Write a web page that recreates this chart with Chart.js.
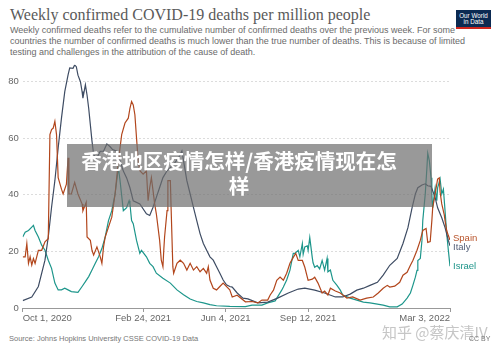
<!DOCTYPE html>
<html>
<head>
<meta charset="utf-8">
<script src="https://cdn.jsdelivr.net/npm/chart.js@4/dist/chart.umd.min.js"></script>
<style>
  html, body { margin:0; padding:0; background:#fff; }
  #wrap { position:relative; width:500px; height:352px; overflow:hidden; background:#fff; }
  .abs { position:absolute; white-space:nowrap; }
  #title { left:10px; top:7px; font:16px/16px "Liberation Serif", serif; color:#5a5a5a; }
  #sub { left:10px; top:24.7px; font:9px/11px "Liberation Sans", Arial, sans-serif; color:#6a6a6a; }
  #logo { left:456px; top:10px; width:35px; height:19px; background:#0b2a52; color:#fff;
          font:6.3px/6.6px "Liberation Sans", Arial, sans-serif; text-align:center; }
  #logo .bar { position:absolute; left:0; bottom:0; width:100%; height:2px; background:#ce261e; }
  #logo .t { padding-top:2.5px; }
  #chartBox { left:0; top:55px; width:500px; height:271px; }
  #source { left:9px; top:334px; font:7.5px/9px "Liberation Sans", Arial, sans-serif; color:#777; }
  #cc { left:469px; top:334px; font:7px/9px "Liberation Sans", Arial, sans-serif; color:#777; }
  #wm { left:382px; top:323px; font:15px/18px "Noto Sans CJK SC", sans-serif; color:#c6c6c6; }
  #overlay { left:67px; top:144px; width:365px; height:63px; background:rgba(110,110,110,0.7); }
  .ov { position:absolute; left:77px; width:324px; text-align:center; color:#fff;
        font:bold 20.5px/26px "Noto Sans CJK SC", sans-serif; white-space:nowrap; }
</style>
</head>
<body>
<div id="wrap">
  <div id="title" class="abs">Weekly confirmed COVID-19 deaths per million people</div>
  <div id="sub" class="abs">Weekly confirmed deaths refer to the cumulative number of confirmed deaths over the previous week. For some<br>countries the number of confirmed deaths is much lower than the true number of deaths. This is because of limited<br>testing and challenges in the attribution of the cause of death.</div>
  <div id="logo" class="abs"><div class="t">Our World<br>in Data</div><div class="bar"></div></div>
  <div id="chartBox" class="abs"><canvas id="c"></canvas></div>
  <div id="overlay" class="abs"></div>
  <div class="ov" style="top:147px;">香港地区疫情怎样/香港疫情现在怎</div>
  <div class="ov" style="top:172px;">样</div>
  <div id="source" class="abs">Source: Johns Hopkins University CSSE COVID-19 Data</div>
  <div id="wm" class="abs">知乎 @蔡庆清IV</div>
  <div id="cc" class="abs">CC BY</div>
</div>
<script>
// x values are days since Oct 1, 2020
const xTickDays = [0, 146, 246, 346, 518];
const xTickLabels = ["Oct 1, 2020", "Feb 24, 2021", "Jun 4, 2021", "Sep 12, 2021", "Mar 3, 2022"];
const yTicks = [0, 20, 40, 60, 80];
const seriesNames = ["Spain", "Italy", "Israel"];

const italyDays = [0,11,19,27,31,35,39,43,47,51,55,57,61,63,65,67,70,72,73,76,78,80,82,84,86,89,94,98,102,106,109,114,118,122,126,130,134,142,150,154,158,162,166,170,175,183,189,193,195,199,203,207,211,215,219,223,227,231,235,239,243,247,251,254,260,267,273,285,297,309,322,334,342,354,366,379,388,397,405,413,421,430,437,445,454,461,467,472,476,479,484,488,491,495,500,503,508,512,516,518];
const italyValues = [2.6,3.9,7.6,16.9,25.1,35.6,45,56.6,67.1,76.5,82.4,84.9,84.7,85.9,85.3,82.3,80,76.5,74.2,78.9,75.3,70.6,64.8,59,54.3,52.6,55.4,55.4,58,57,56,55.4,52,48.4,46,42.5,37.9,36.8,33.3,32.7,35.6,39.1,42.6,46.1,48.5,50.8,53.1,55.5,52,45,40.3,35.6,30.9,26.3,22.8,20.4,18.1,16.9,14.6,12.3,9.9,8.2,7.6,7.4,5.3,3.5,3.2,1.8,2.1,3.5,5.3,6.7,7,6.3,5.3,3.9,3.9,4.9,6.3,7,8,9.1,11.6,15.1,17.5,22.8,28.4,35.4,40.3,42.5,43.5,43.9,43.2,43,39,35.4,31.9,28.4,23.9,22];

const spainDays = [0,3,5,7,9,11,13,15,19,23,27,31,33,35,37,39,41,43,47,49,53,55,56,59,63,67,72,73,77,78,82,84,86,90,94,96,98,100,104,108,112,116,120,124,128,130,132,134,136,138,140,142,146,150,152,154,156,158,160,162,166,168,170,171,172,175,176,179,180,182,183,187,191,195,199,203,207,211,215,219,223,225,227,231,235,239,243,251,254,260,270,278,285,290,297,300,304,308,312,316,320,324,328,331,334,339,342,346,351,354,358,363,366,370,373,379,385,393,400,409,417,425,431,437,442,445,451,457,461,466,470,473,478,482,485,489,491,494,496,497,500,502,503,505,506,508,511,512,514,516,518];
const spainValues = [18.1,18.1,22.8,15.8,18.1,15.2,17.5,15.8,20.4,20.4,23.4,24.5,61.3,63.1,63.6,66,61.3,46.1,42,40.3,43.8,53.1,40.3,40.3,44.4,40.3,36.8,34.4,37.4,25.1,23.9,20.4,18.7,21.6,18.1,15.8,21.6,25.1,28.6,32.1,40.3,52,61.3,65.4,67.1,70.6,73,71.8,68.3,60.1,52,48.5,47.3,48.5,37.9,42.6,46.1,41.5,36.8,33.3,23.9,16.9,14.6,20.4,25.1,34.4,45,45,34.4,14.6,12.3,15.8,16.9,15.8,13.4,15.8,13.4,14.6,12.8,14,12.3,14.6,9.9,7,6.4,7.6,8.8,6.4,3.9,4.5,2.2,2.3,1.8,2.8,2.8,4.6,6.3,9.8,10.9,9.8,12.3,15.8,17.9,19.3,16.8,16.8,14.4,9.8,10.2,10.9,8.8,5.3,6,4.6,7,6,5.3,3.5,3.9,2.8,3.5,3.9,5.3,7,8,7.4,7.7,9.1,11.6,12.6,15.1,16.8,20.4,23.9,27.4,28.1,23.2,23.5,30.9,35.4,40.3,43.9,45.6,46,41,36.8,33,30.9,27.4,25.6,24];

const israelDays = [0,3,7,11,13,15,19,23,27,31,35,39,43,47,51,55,59,67,72,76,80,84,88,92,96,100,104,108,112,116,118,122,126,129,130,132,134,138,142,144,150,154,158,162,170,179,187,195,203,211,219,227,235,251,270,278,290,297,306,314,316,320,324,328,330,334,336,339,340,342,345,346,348,351,352,354,357,360,363,366,369,370,373,376,381,385,388,397,405,413,421,430,437,445,454,460,466,470,473,476,478,479,482,484,485,488,490,491,493,495,496,497,499,500,502,503,506,508,510,512,514,516,518];
const israelValues = [25.1,26.8,27.4,28.6,29.2,27.4,25.1,22.2,20.4,16.9,14,8.8,6.4,6.4,7,6.4,5.8,5.5,7.6,9.3,11.1,13.4,15.8,18.1,21,25.1,30.9,34.4,40.3,49.6,45,34.4,35.5,37.9,36.8,30.9,29.8,23.9,19.3,20.4,18.1,15.8,14.6,12.3,10.5,8.8,6.4,4.7,3.2,2.3,1.8,1.2,0.8,0.6,0.5,1,1,1.8,2.5,6.3,7.4,9.9,13.4,19.3,19.3,20.4,18.1,22.8,19,21.6,22,20.4,24.9,17.9,16,14.4,15,13.8,16.8,13.4,17.5,12.8,13.4,9.8,8,6.3,4.6,3.5,2.8,2.1,1.8,1.4,1,0.4,0.4,1.4,3.5,5.3,8,10.9,13.3,16.8,17.5,23.9,30.9,40.3,49.5,54.7,52,46,40.3,35.4,40.3,42.5,37.9,42.5,45.6,40.3,42,34.4,26.3,20.4,14.8];

const seriesColors = ["#b2461c", "#3e4c63", "#1d968b"];
const labelColors = ["#b8532a", "#55617a", "#1e958a"];

function pts(days, vals) { return days.map((d, i) => ({ x: d, y: vals[i] })); }

const endLabels = {
  id: 'endLabels',
  afterDatasetsDraw(chart) {
    const ctx = chart.ctx, ys = chart.scales.y, area = chart.chartArea;
    const items = chart.data.datasets.map((ds, i) => ({
      text: ds.label, color: labelColors[i],
      y: ys.getPixelForValue(ds.data[ds.data.length - 1].y)
    }));
    items.sort((a, b) => a.y - b.y);
    const gap = 9.5;
    for (let it = 0; it < 20; it++) {
      for (let i = 1; i < items.length; i++) {
        const d = items[i].y - items[i - 1].y;
        if (d < gap) { const m = (gap - d) / 2; items[i - 1].y -= m; items[i].y += m; }
      }
    }
    ctx.save();
    ctx.font = '9.5px "Liberation Sans", Arial, sans-serif';
    ctx.textBaseline = 'middle';
    ctx.textAlign = 'left';
    items.forEach(o => { ctx.fillStyle = o.color; ctx.fillText(o.text, area.right + 3, o.y); });
    ctx.restore();
  }
};

new Chart(document.getElementById('c'), {
  type: 'line',
  data: {
    datasets: [
      { label: seriesNames[0], data: pts(spainDays, spainValues), borderColor: seriesColors[0] },
      { label: seriesNames[1], data: pts(italyDays, italyValues), borderColor: seriesColors[1] },
      { label: seriesNames[2], data: pts(israelDays, israelValues), borderColor: seriesColors[2] }
    ]
  },
  options: {
    responsive: true,
    maintainAspectRatio: false,
    animation: false,
    elements: { point: { radius: 0 }, line: { borderWidth: 1.2, tension: 0 } },
    layout: { padding: { top: 8, right: 50, left: 0, bottom: 0 } },
    plugins: { legend: { display: false }, tooltip: { enabled: false } },
    scales: {
      x: {
        type: 'linear', min: 0, max: 518,
        afterBuildTicks(s) { s.ticks = xTickDays.map(v => ({ value: v })); },
        afterFit(s) { s.height = 18; },
        ticks: {
          autoSkip: false, maxRotation: 0, align: 'inner', padding: 1,
          color: '#666', font: { family: '"Liberation Sans", Arial, sans-serif', size: 9.5 },
          callback(v) { const i = xTickDays.indexOf(v); return i >= 0 ? xTickLabels[i] : ''; }
        },
        grid: { drawOnChartArea: false, drawTicks: true, tickLength: 4, color: '#999' },
        border: { display: true, color: '#999', width: 1 }
      },
      y: {
        min: 0, max: 86,
        afterBuildTicks(s) { s.ticks = yTicks.map(v => ({ value: v })); },
        afterFit(s) { s.width = 22.7; },
        ticks: {
          padding: 4, color: '#666',
          font: { family: '"Liberation Sans", Arial, sans-serif', size: 9.5 }
        },
        grid: { drawTicks: false, color: '#dcdcdc', lineWidth: 1 },
        border: { display: false, dash: [2, 2] }
      }
    }
  },
  plugins: [endLabels]
});
</script>
</body>
</html>
